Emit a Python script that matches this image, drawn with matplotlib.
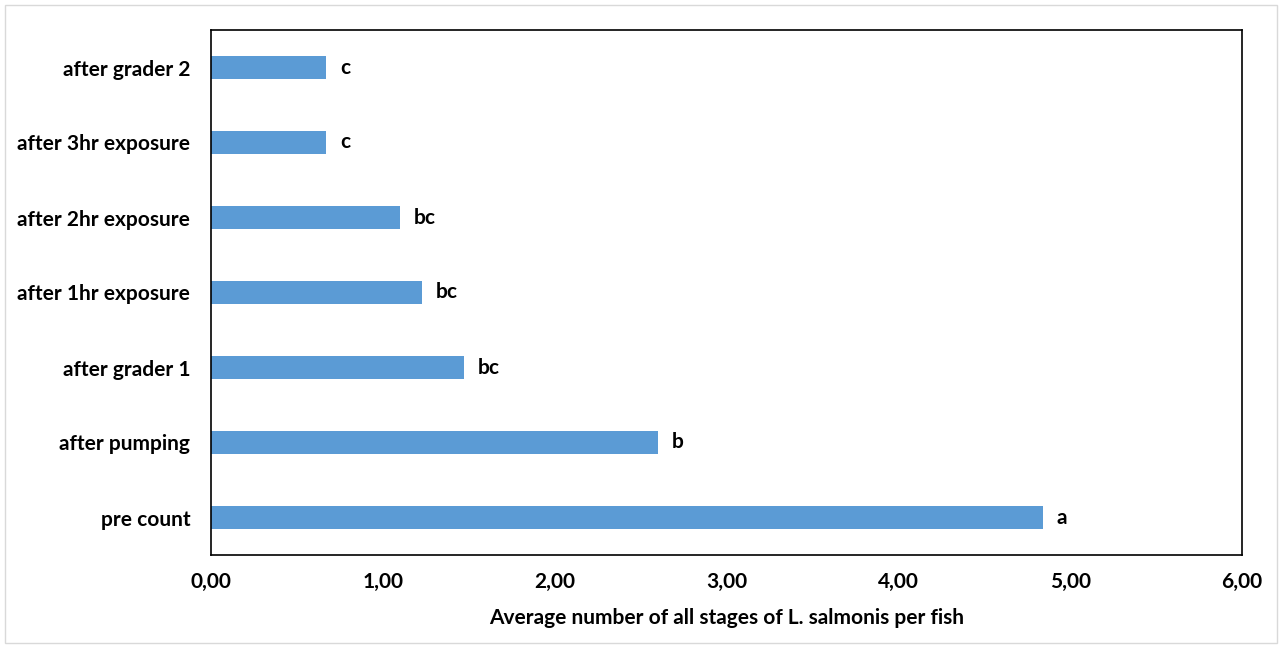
import matplotlib.pyplot as plt
from matplotlib.patches import Rectangle

categories = ['pre count', 'after pumping', 'after grader 1', 'after 1hr exposure',
              'after 2hr exposure', 'after 3hr exposure', 'after grader 2']
values = [4.84, 2.60, 1.47, 1.23, 1.10, 0.67, 0.67]
letters = ['a', 'b', 'bc', 'bc', 'bc', 'c', 'c']
xticks = [0, 1, 2, 3, 4, 5, 6]

plt.rcParams['font.family'] = ['Lato', 'DejaVu Sans']
plt.rcParams['font.weight'] = 'bold'
fs = 15

fig = plt.figure(figsize=(12.82, 6.48), dpi=100)
ax = fig.add_axes([211 / 1282, 1 - 555 / 648, (1242 - 211) / 1282, (555 - 30) / 648])

pos = list(range(len(categories)))
ax.barh(pos, values, height=0.31, color='#5B9BD5')
for p, v, t in zip(pos, values, letters):
    ax.text(v + 0.08, p, t, va='center', ha='left', fontsize=fs, fontweight='bold')

ax.set_xlim(0, 6)
ax.set_ylim(-0.5, len(categories) - 0.5)
ax.set_yticks(pos)
ax.set_yticklabels(categories, fontsize=fs, fontweight='bold')
ax.set_xticks(xticks)
ax.set_xticklabels([('%.2f' % x).replace('.', ',') for x in xticks], fontsize=fs, fontweight='bold')
ax.tick_params(axis='both', length=0)
ax.tick_params(axis='x', pad=12)
ax.tick_params(axis='y', pad=15)
ax.set_xlabel('Average number of all stages of L. salmonis per fish', fontsize=fs,
              fontweight='bold', labelpad=12)
for s in ax.spines.values():
    s.set_linewidth(1.2)
    s.set_color('black')

fig.patches.append(Rectangle((5 / 1282, 5 / 648), 1272 / 1282, 638 / 648, transform=fig.transFigure,
                             fill=False, edgecolor='#d9d9d9', linewidth=1))

fig.savefig('out.png', dpi=100)
